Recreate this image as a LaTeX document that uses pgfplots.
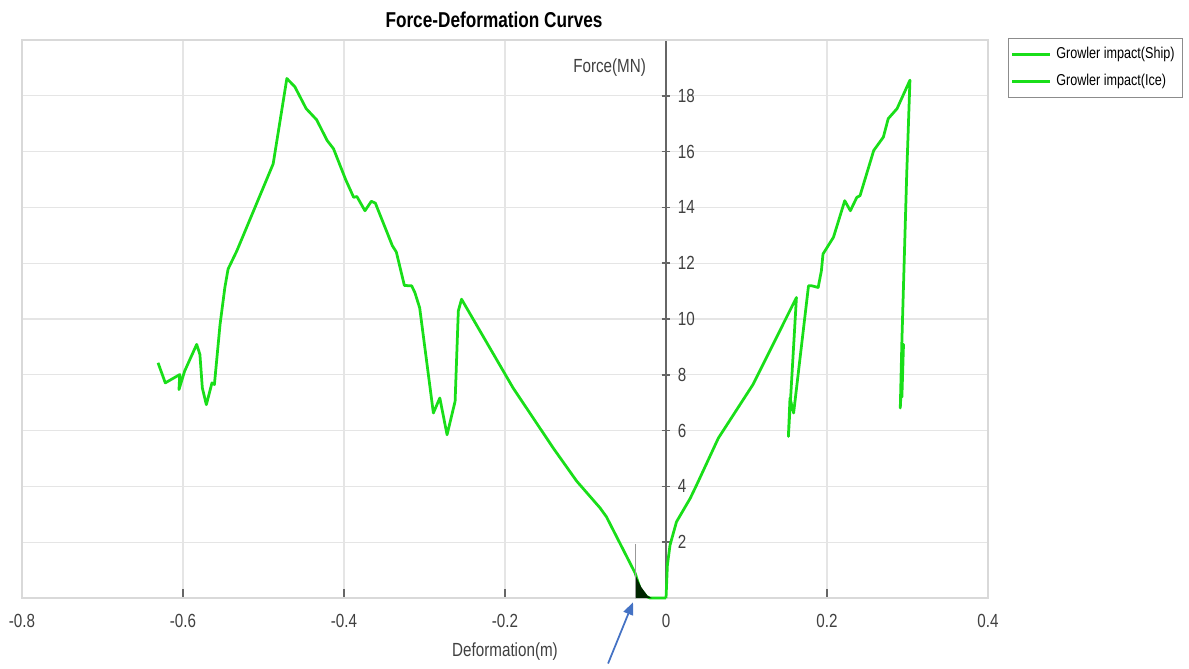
\documentclass[border=0pt]{standalone}
\usepackage{fontspec}
\setmainfont{Liberation Sans}[FakeStretch=0.8]
\usepackage{pgfplots}
\pgfplotsset{compat=1.18}
\usetikzlibrary{arrows.meta}
\definecolor{mgreen}{RGB}{25,222,25}
\definecolor{arrowblue}{RGB}{68,114,196}
\begin{document}
\begin{tikzpicture}
\begin{axis}[
  scale only axis, width=386.4pt, height=223.2pt,
  xmin=-0.8, xmax=0.4, ymin=0, ymax=20,
  clip=false,
  axis x line=bottom, axis y line=middle,
  axis line style={-, draw=black!60, line width=0.6pt},
  xtick={-0.8,-0.6,-0.4,-0.2,0,0.2,0.4},
  xticklabels={-0.8,-0.6,-0.4,-0.2,0,0.2,0.4},
  ytick={2,4,6,8,10,12,14,16,18},
  yticklabels={2,4,6,8,10,12,14,16,18},
  grid=major, major grid style={draw=black!10, line width=0.5pt},
  tick style={draw=black!60, line width=0.6pt},
  major tick length=3.5pt,
  xtick align=inside, ytick align=center,
  tick label style={font=\fontsize{7.6}{9}\selectfont, text=black!75},
  yticklabel style={anchor=west, xshift=3pt},
  xticklabel style={anchor=north, yshift=-3pt},
  xlabel={Deformation(m)},
  xlabel style={at={(axis description cs:0.5,0)}, anchor=center, yshift=-21.6pt, font=\fontsize{7.6}{9}\selectfont, text=black!75},
  ylabel={Force(MN)},
  ylabel style={at={(axis description cs:0.655,0.95)}, anchor=east, rotate=0, font=\fontsize{7.6}{9}\selectfont, text=black!75},
  title={Force-Deformation Curves},
  title style={at={(axis description cs:0.4886,1)}, anchor=center, yshift=2pt, font=\fontsize{8.6}{10}\selectfont\bfseries},
  legend style={at={(axis description cs:1.0207,1.0036)}, anchor=north west, draw=black!45, fill=white,
    font=\fontsize{6.3}{7.5}\selectfont, inner ysep=1.5pt, inner xsep=1pt, row sep=0.5pt},
  legend cell align=left,
  legend image code/.code={\draw[#1] (2pt,0pt) -- (17pt,0pt);},
]
\coordinate (SW) at (rel axis cs:0,0);
\draw[black!15, line width=0.5pt] (rel axis cs:0,0) rectangle (rel axis cs:1,1);

% Ship (negative deformation)
\addplot[mgreen, line width=1.1pt, line join=round] coordinates {
(0,0) (-0.020,0) (-0.024,0.05) (-0.032,0.33) (-0.0385,0.90)
(-0.074,2.91) (-0.082,3.23) (-0.111,4.19) (-0.140,5.37) (-0.190,7.53)
(-0.254,10.71) (-0.258,10.29) (-0.262,7.05) (-0.272,5.85) (-0.281,7.17)
(-0.289,6.63) (-0.306,10.40) (-0.312,10.95) (-0.316,11.19) (-0.325,11.20)
(-0.335,12.40) (-0.340,12.63) (-0.361,14.15) (-0.366,14.22) (-0.374,13.88)
(-0.384,14.39) (-0.388,14.36) (-0.398,15.00) (-0.413,16.10) (-0.421,16.40)
(-0.434,17.14) (-0.447,17.54) (-0.461,18.32) (-0.471,18.62) (-0.488,15.56)
(-0.533,12.45) (-0.544,11.79) (-0.548,11.13) (-0.554,9.80) (-0.561,7.65)
(-0.564,7.71) (-0.571,6.93) (-0.576,7.53) (-0.579,8.73) (-0.583,9.09)
(-0.598,8.13) (-0.605,7.47) (-0.604,8.01) (-0.622,7.71) (-0.631,8.43)
};
\addlegendentry{Growler impact(Ship)}

% Ice (positive deformation)
\addplot[mgreen, line width=1.1pt, line join=round] coordinates {
(0,0) (0.0017,1.18) (0.005,1.90) (0.013,2.73) (0.030,3.57) (0.038,4.05)
(0.065,5.73) (0.108,7.65) (0.162,10.77) (0.152,5.79) (0.154,7.17)
(0.1585,6.63) (0.177,11.19) (0.181,11.19) (0.189,11.13) (0.193,11.73)
(0.195,12.33) (0.208,12.93) (0.222,14.24) (0.229,13.88) (0.237,14.36)
(0.241,14.42) (0.258,16.04) (0.270,16.52) (0.276,17.18) (0.287,17.54)
(0.303,18.56) (0.299,15.20) (0.293,9.21) (0.291,6.81) (0.295,9.09)
(0.293,7.20) (0.2945,8.60) (0.293,7.90)
};
\addlegendentry{Growler impact(Ice)}

% dark patch and thin marker line near the origin
\addplot[forget plot, draw=none, fill=black!85!green] coordinates {
(-0.0385,0.85) (-0.0385,0) (-0.018,0) (-0.023,0.08) (-0.031,0.40) (-0.0385,0.85)
};
\addplot[forget plot, black!40, line width=0.4pt] coordinates {(-0.0385,0) (-0.0385,1.95)};

\draw[arrowblue, line width=0.7pt, -{Triangle[length=5pt,width=4pt]}]
  (axis cs:-0.072,-2.35) -- (axis cs:-0.041,-0.15);
\end{axis}
\pgfresetboundingbox
\path[use as bounding box] (SW) ++(-8.8pt,-28pt) rectangle ++(475.6pt,267.2pt);
\end{tikzpicture}
\end{document}
